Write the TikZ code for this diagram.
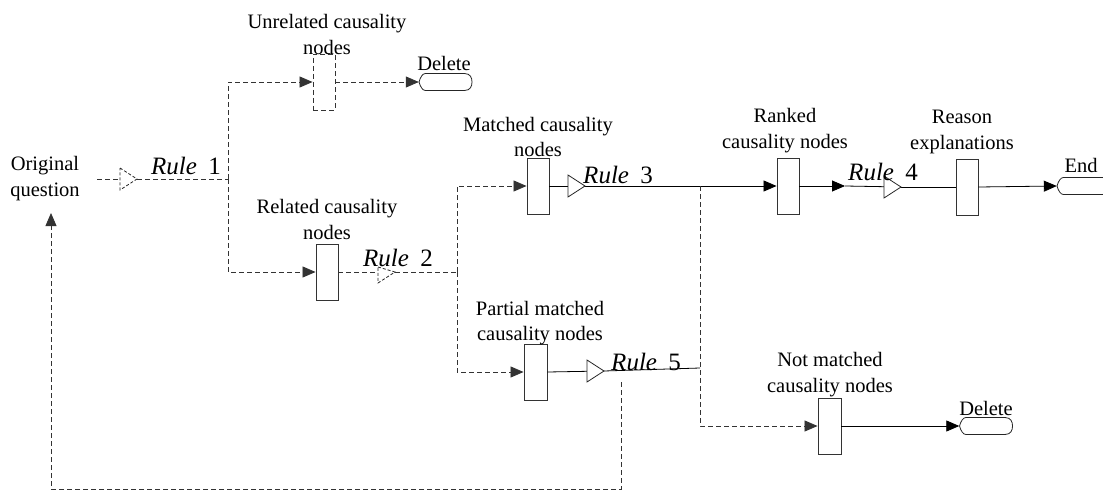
\documentclass[tikz,border=0pt]{standalone}
\usepackage{fontspec}
\setmainfont{Liberation Serif}
\usetikzlibrary{arrows.meta}
\newcommand\opentri[2][]{\draw[tri,#1] ([shift={(-17,-11)}]#2) -- (#2) -- ([shift={(-17,11)}]#2) -- cycle;}
\newcommand\termpath[1]{\path[termline] ([shift={(-26.5,0)}]#1.center) .. controls ([shift={(-25,-5)}]#1.center) and ([shift={(-23,-8.5)}]#1.center) .. ([shift={(-20,-8.5)}]#1.center) -- ([shift={(19,-8.5)}]#1.center) .. controls ([shift={(25,-8.5)}]#1.center) and ([shift={(26.5,-4)}]#1.center) .. ([shift={(26.5,0)}]#1.center) .. controls ([shift={(26.5,4)}]#1.center) and ([shift={(25,8.5)}]#1.center) .. ([shift={(19,8.5)}]#1.center) -- ([shift={(-20,8.5)}]#1.center) .. controls ([shift={(-23,8.5)}]#1.center) and ([shift={(-25,5)}]#1.center) .. cycle;}
\newcommand\rulelabel[1]{\textit{Rule}\hspace{0.45em}#1}
\begin{document}
\begin{tikzpicture}[x=1pt,y=-1pt,
  lab/.style={font=\fontsize{20.5}{25.5}\selectfont, align=center, inner sep=0pt},
  rulelab/.style={font=\fontsize{25}{30}\selectfont, inner sep=0pt},
  pbox/.style={draw=black!80, line width=0.9pt, fill=white, minimum width=22pt, minimum height=56pt, inner sep=0pt},
  term/.style={minimum width=53pt, minimum height=17pt, inner sep=0pt},
  conn/.style={line width=0.8pt, black},
  dconn/.style={line width=0.8pt, black!80, dash pattern=on 5pt off 3pt},
  tip/.style={-{Triangle[length=13pt,width=11pt]}},
  tri/.style={draw=black!85, line width=0.8pt, fill=white, line join=miter},
  termline/.style={draw=black!85, line width=0.8pt, fill=white},
]
\path[use as bounding box] (0,0) rectangle (1103,492);
\clip (0,0) rectangle (1103,492);

% boxes and terminals
\node[lab] (orig) at (45,178.5) {Original\\question};
\node[pbox, dash pattern=on 5pt off 3pt] (ub) at (324,82) {};
\node[pbox] (rb) at (327,272) {};
\node[pbox] (mb) at (538,186) {};
\node[pbox] (kb) at (788,186) {};
\node[pbox] (eb) at (967,187) {};
\node[pbox, minimum width=23pt] (pb) at (535.5,372) {};
\node[pbox, minimum width=23pt] (nb) at (829.5,426) {};
\node[term] (d1) at (445.5,82) {};
\node[term] (d2) at (986,426) {};
\node[term] (fin) at (1083.5,186) {};

% junction points
\coordinate (o1) at (97,179);
\coordinate (t1) at (137,179);
\coordinate (j1) at (228,179);
\coordinate (t2) at (395,272);
\coordinate (j2) at (457,272);
\coordinate (t3) at (585,186);
\coordinate (j3) at (700,186);
\coordinate (a4) at (845,186);
\coordinate (t4) at (901,187);
\coordinate (t5) at (604,371);
\coordinate (j5) at (700,368);
\coordinate (f1) at (621,382);
\coordinate (f2) at (621,489);
\coordinate (f3) at (51,489);
\coordinate (f4) at (51,213);

% connectors
\draw[dconn] (o1) -- (t1);
\draw[dconn] (t1) -- (j1);
\draw[dconn,tip] (j1) |- (ub.west);
\draw[dconn,tip] (j1) |- (rb.west);
\draw[dconn,tip] (ub.east) -- (d1.west);
\draw[dconn] (rb.east) -- (t2);
\draw[dconn] (t2) -- (j2);
\draw[dconn,tip] (j2) |- (mb.west);
\draw[dconn,tip] (j2) |- (pb.west);
\draw[conn] (mb.east) -- (t3);
\draw[conn,tip] (t3) -- (kb.west);
\draw[dconn,tip] (j3) |- (nb.west);
\draw[conn,tip] (kb.east) -- (a4);
\draw[conn] (a4) -- (t4);
\draw[conn] (t4) -- (eb.west);
\draw[conn,tip] (eb.east) -- (fin.west);
\draw[conn] (pb.east) -- (t5);
\draw[conn] (t5) -- (j5);
\draw[conn,tip] (nb.east) -- (d2.west);
\draw[dconn,tip] (f1) -- (f2) -- (f3) -- (f4);

% open triangles
\opentri[dash pattern=on 3pt off 2pt]{t1}
\draw[tri, dash pattern=on 3pt off 2pt] ([shift={(-17,-5)}]t2) -- (t2) -- ([shift={(-17,11)}]t2) -- cycle;
\opentri{t3}
\opentri{t4}
\opentri{t5}

% terminals
\termpath{d1}
\termpath{d2}
\termpath{fin}

% labels
\node[lab] (lu) at (327,34.5) {Unrelated causality\\nodes};
\node[lab] (ld1) at (444,63) {Delete};
\node[lab] (lr) at (327,219.5) {Related causality\\nodes};
\node[lab] (lm) at (538,137) {Matched causality\\nodes};
\node[lab] (lk) at (785,130.5) {Ranked\\causality nodes};
\node[lab] (le) at (962,132) {Reason\\explanations};
\node[lab] (lend) at (1081,165) {End};
\node[lab] (lp) at (540,323) {Partial matched\\causality nodes};
\node[lab] (ln) at (830,374.5) {Not matched\\causality nodes};
\node[lab] (ld2) at (986,408) {Delete};
\node[rulelab] (r1) at (186,166) {\rulelabel{1}};
\node[rulelab] (r2) at (398,258) {\rulelabel{2}};
\node[rulelab] (r3) at (618,175) {\rulelabel{3}};
\node[rulelab] (r4) at (883,172) {\rulelabel{4}};
\node[rulelab] (r5) at (646,362) {\rulelabel{5}};
\end{tikzpicture}
\end{document}
